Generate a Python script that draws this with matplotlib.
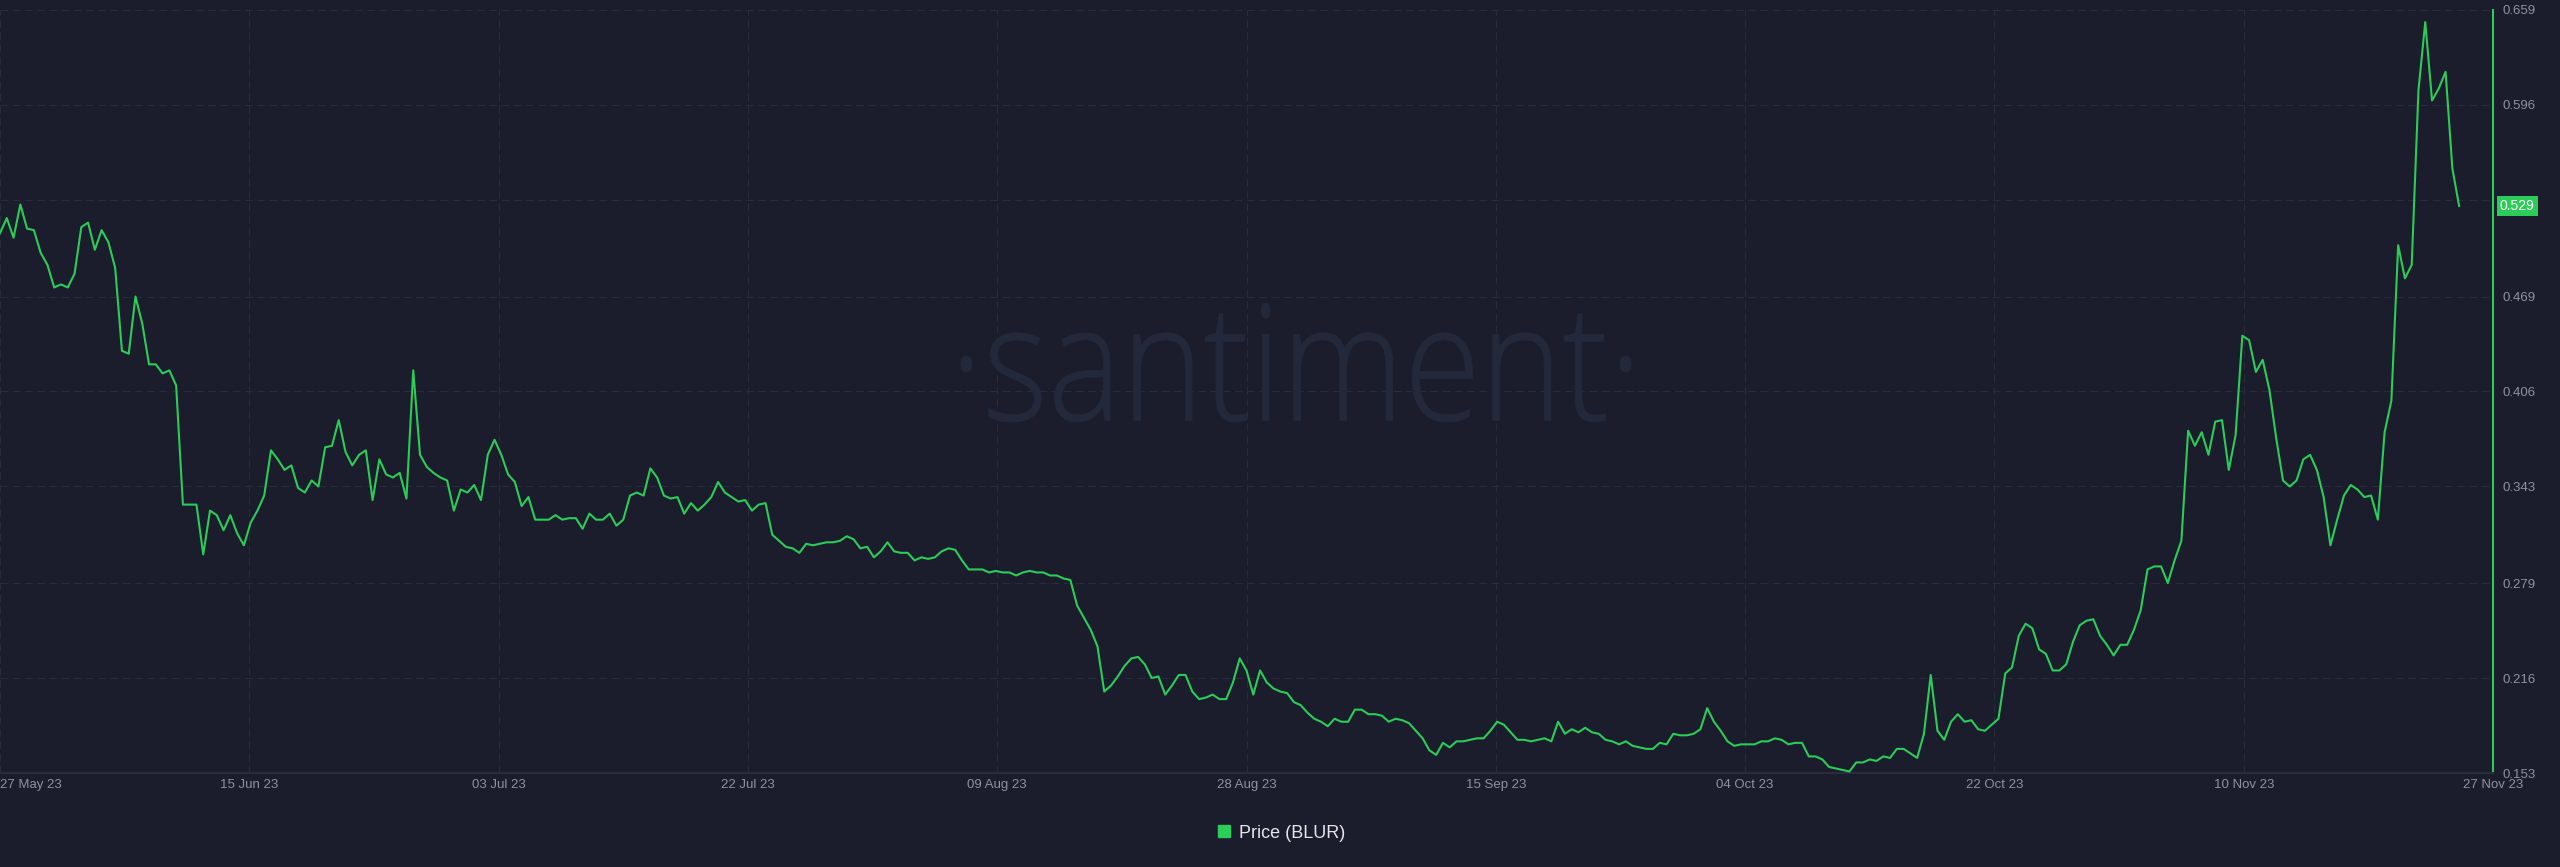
import numpy as np
import pandas as pd
import matplotlib
matplotlib.use('Agg')
import matplotlib.pyplot as plt
import matplotlib.dates as mdates
from matplotlib.textpath import TextPath
from matplotlib.patches import PathPatch
from matplotlib.font_manager import FontProperties
from matplotlib.transforms import Affine2D, IdentityTransform, blended_transform_factory, offset_copy
from matplotlib.lines import Line2D

# BLUR price, every 12 hours
start = pd.Timestamp('2023-05-27 16:00')
end = pd.Timestamp('2023-11-27 16:00')
price = [
    0.511, 0.521, 0.508, 0.530, 0.514, 0.513, 0.498, 0.490, 0.475, 0.477,
    0.475, 0.484, 0.515, 0.518, 0.500, 0.513, 0.505, 0.488, 0.433, 0.431,
    0.469, 0.451, 0.424, 0.424, 0.418, 0.420, 0.410, 0.331, 0.331, 0.331,
    0.298, 0.327, 0.324, 0.314, 0.324, 0.312, 0.304, 0.319, 0.327, 0.337,
    0.367, 0.361, 0.354, 0.357, 0.342, 0.339, 0.347, 0.343, 0.369, 0.370,
    0.387, 0.366, 0.357, 0.364, 0.367, 0.334, 0.361, 0.351, 0.349, 0.352,
    0.335, 0.420, 0.364, 0.356, 0.352, 0.349, 0.347, 0.327, 0.341, 0.339,
    0.344, 0.334, 0.364, 0.374,
    0.364, 0.351, 0.346, 0.330, 0.336, 0.321, 0.321, 0.321, 0.324, 0.321,
    0.322, 0.322, 0.315, 0.325, 0.321, 0.321, 0.325, 0.317, 0.321, 0.337,
    0.339, 0.337, 0.355, 0.349, 0.337, 0.335, 0.336, 0.325, 0.332, 0.327,
    0.331, 0.336, 0.346, 0.339, 0.336, 0.333, 0.334, 0.327, 0.331, 0.332,
    0.311, 0.307, 0.303, 0.302, 0.299, 0.305, 0.304, 0.305, 0.306, 0.306,
    0.307, 0.310, 0.308, 0.302, 0.303, 0.296, 0.300, 0.306, 0.300, 0.299,
    0.299, 0.294, 0.296, 0.295, 0.296, 0.300, 0.302, 0.301, 0.294, 0.288,
    0.288, 0.288, 0.286, 0.287, 0.286, 0.286, 0.284, 0.286, 0.287, 0.286,
    0.286, 0.284, 0.284, 0.282, 0.281, 0.264, 0.256, 0.248, 0.237, 0.207,
    0.211, 0.217, 0.224, 0.229, 0.230, 0.225, 0.216, 0.217, 0.205, 0.211,
    0.218, 0.218, 0.207, 0.202, 0.203, 0.205, 0.202, 0.202, 0.213, 0.229,
    0.221, 0.205, 0.221, 0.213, 0.209, 0.207, 0.206, 0.200, 0.198, 0.193,
    0.189, 0.187, 0.184, 0.189, 0.187, 0.187, 0.195, 0.195, 0.192, 0.192,
    0.191, 0.187, 0.189, 0.188, 0.186, 0.181, 0.176, 0.168, 0.165, 0.173,
    0.170, 0.174, 0.174, 0.175, 0.176, 0.176, 0.181, 0.187, 0.185, 0.180,
    0.175, 0.175, 0.174, 0.175,
    0.176, 0.174, 0.187, 0.179, 0.182, 0.180, 0.183, 0.180, 0.179, 0.175,
    0.174, 0.172, 0.174, 0.171, 0.170, 0.169, 0.169, 0.173, 0.172, 0.179,
    0.178, 0.178, 0.179, 0.182, 0.196, 0.187, 0.181, 0.174, 0.171, 0.172,
    0.172, 0.172, 0.174, 0.174, 0.176, 0.175, 0.172, 0.173, 0.173, 0.164,
    0.164, 0.162, 0.157, 0.156, 0.155, 0.154, 0.160, 0.160, 0.162, 0.161,
    0.164, 0.163, 0.169, 0.169, 0.166, 0.163, 0.179, 0.218, 0.181, 0.175,
    0.187, 0.192, 0.187, 0.188, 0.182, 0.181, 0.185, 0.189, 0.219, 0.223,
    0.244, 0.252, 0.249, 0.235,
    0.232, 0.221, 0.221, 0.225, 0.240, 0.251, 0.254, 0.255, 0.244, 0.238,
    0.231, 0.238, 0.238, 0.248, 0.261, 0.288, 0.290, 0.290, 0.279, 0.294,
    0.307, 0.380, 0.370, 0.379, 0.364, 0.386, 0.387, 0.354, 0.377, 0.443,
    0.440, 0.419, 0.427, 0.407, 0.375, 0.347, 0.343, 0.347, 0.361, 0.364,
    0.354, 0.336, 0.304, 0.321, 0.337, 0.344, 0.341, 0.336, 0.337, 0.321,
    0.379, 0.400, 0.503, 0.481, 0.490, 0.606, 0.651, 0.599, 0.607, 0.618,
    0.554, 0.529,
]
dates = pd.date_range(start, periods=len(price), freq='12h')

x_labels = ['27 May 23', '15 Jun 23', '03 Jul 23', '22 Jul 23', '09 Aug 23', '28 Aug 23',
            '15 Sep 23', '04 Oct 23', '22 Oct 23', '10 Nov 23', '27 Nov 23']
y_ticks = [0.153, 0.216, 0.279, 0.343, 0.406, 0.469, 0.533, 0.596, 0.659]
last_price = price[-1]
series_name = 'Price (BLUR)'

bg = '#1b1d2c'
green = '#2bcc57'
grid_c = '#282b3d'
text_c = '#8d91a3'

plt.rcParams['font.family'] = ['Liberation Sans', 'DejaVu Sans']

W, H = 2560, 867
fig = plt.figure(figsize=(W / 100, H / 100), dpi=100, facecolor=bg)
ax = fig.add_axes([0, 1 - 773 / H, 2493 / W, 763 / H])
ax.set_facecolor(bg)

ax.plot(dates, price, color=green, lw=1.5, zorder=3)

ax.set_xlim(start, end)
ax.set_ylim(y_ticks[0], y_ticks[-1])

xt = mdates.date2num(pd.date_range(start, end, periods=len(x_labels)).to_pydatetime())
ax.set_xticks(xt)
ax.set_xticklabels(x_labels)
ax.get_xticklabels()[0].set_horizontalalignment('left')
ax.yaxis.tick_right()
ax.set_yticks(y_ticks)
# the tick label under the last-value badge is hidden, as in the original
ax.set_yticklabels(['' if abs(v - last_price) < 0.01 else f'{v:.3f}' for v in y_ticks])
ax.tick_params(axis='x', length=0, pad=4, labelsize=9.5, labelcolor=text_c)
ax.tick_params(axis='y', length=0, pad=6.5, labelsize=9.5, labelcolor=text_c)

ax.grid(True, color=grid_c, lw=0.8, ls=(0, (7, 4)))
ax.set_axisbelow(True)

for s in ['top', 'left']:
    ax.spines[s].set_visible(False)
ax.spines['bottom'].set_color('#292c3d')
ax.spines['bottom'].set_linewidth(1.5)
ax.spines['right'].set_color(green)
ax.spines['right'].set_linewidth(1.5)

# last value badge on the right axis
trans = offset_copy(blended_transform_factory(ax.transAxes, ax.transData), fig=fig, x=7, y=0, units='dots')
ax.text(1.0, last_price, f'{last_price:.3f}', transform=trans, ha='left', va='center',
        color='white', fontsize=10, zorder=10, clip_on=False,
        bbox=dict(boxstyle='square,pad=0.22', fc=green, ec='none'))

# watermark
fp = FontProperties(family='Open Sans', weight='light')
tp = TextPath((0, 0), '\u00b7santiment\u00b7', size=100, prop=fp)
ext = tp.get_extents()
tx0, tx1 = 961, 1631
ty0, ty1 = H - 422, H - 303
tr = Affine2D().translate(-ext.x0, -ext.y0).scale((tx1 - tx0) / ext.width, (ty1 - ty0) / ext.height).translate(tx0, ty0)
wm = PathPatch(tr.transform_path(tp), fc='#23283a', ec='#23283a', lw=0.6, transform=IdentityTransform(), zorder=1)
ax.add_artist(wm)

handle = Line2D([], [], marker='s', ls='', color=green, markersize=9)
fig.legend([handle], [series_name], loc='center', bbox_to_anchor=(0.5, 1 - 833 / H), frameon=False,
           fontsize=13, labelcolor='#e4e6ec', handletextpad=0.3, handlelength=1)

fig.savefig('out.png', dpi=100, facecolor=bg)
